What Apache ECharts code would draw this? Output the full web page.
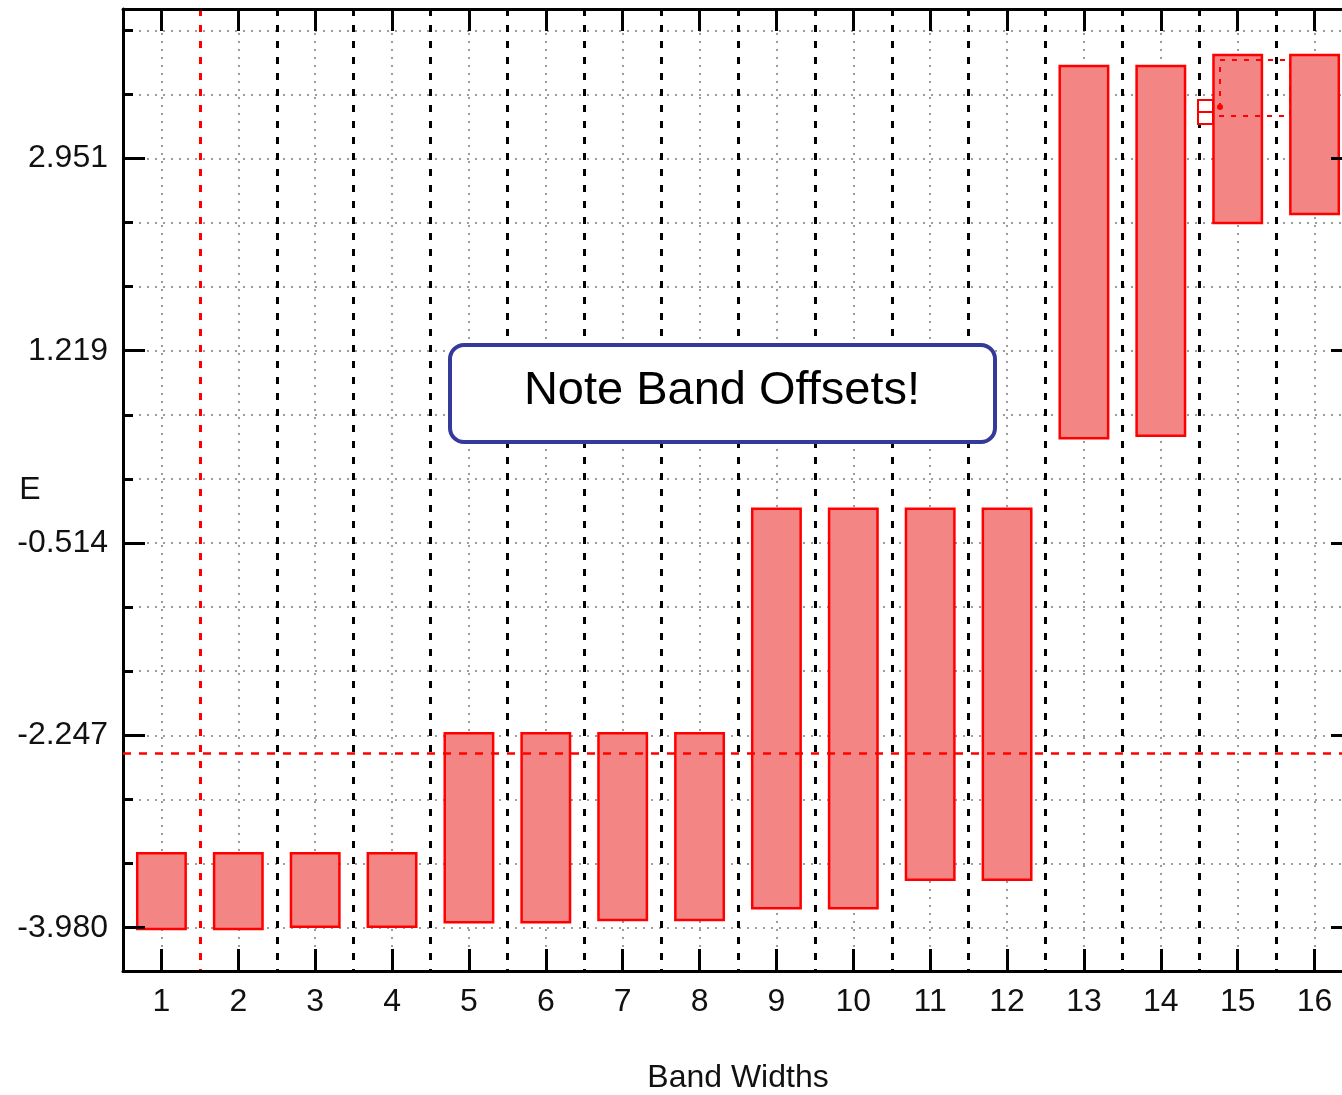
<!DOCTYPE html>
<html>
<head>
<meta charset="utf-8">
<title>Band Widths</title>
<script src="https://cdn.jsdelivr.net/npm/echarts@6/dist/echarts.min.js"></script>
<style>
  html, body { margin: 0; padding: 0; overflow: hidden; background: #ffffff; }
  #chart { width: 1380px; height: 1095px; }
</style>
</head>
<body>
<div id="chart"></div>
<script>
// Band index along the horizontal axis
const categories = ['1', '2', '3', '4', '5', '6', '7', '8', '9', '10', '11', '12', '13', '14', '15', '16'];
// Lower and upper energy edge of each band
const bandLow  = [-3.992, -3.992, -3.971, -3.971, -3.931, -3.931, -3.911, -3.911, -3.805, -3.805, -3.547, -3.547, 0.430, 0.453, 2.370, 2.451];
const bandHigh = [-3.310, -3.310, -3.310, -3.310, -2.228, -2.228, -2.228, -2.228, -0.205, -0.205, -0.205, -0.205, 3.784, 3.784, 3.884, 3.884];
// Energy axis: labelled ticks and every grid line
const yMajorTicks = [-3.980, -2.247, -0.514, 1.219, 2.951];
const yGridTicks = [-3.980, -3.402, -2.825, -2.247, -1.669, -1.092, -0.514, 0.064, 0.641, 1.219, 1.796, 2.374, 2.951, 3.529, 4.106];
const yRange = [-4.370, 4.298];
// Horizontal reference level (red dashed)
const referenceLevel = -2.409;
const yTitle = 'E';
const xTitle = 'Band Widths';
const noteText = 'Note Band Offsets!';

const xCenters = categories.map((c, i) => i + 1);

const FONT = '"Liberation Sans", Arial, Helvetica, sans-serif';
const gridGray = { color: '#9c9c9c', width: 2, type: [2, 6] };
const splitColors = categories.map(() => '#000000').concat(['#000000']);
splitColors[1] = '#ff0000';

const chart = echarts.init(document.getElementById('chart'), null, { renderer: 'canvas' });

chart.setOption({
  backgroundColor: '#ffffff',
  animation: false,
  grid: { left: 123, top: 9, right: 27, bottom: 124, containLabel: false, outerBoundsMode: 'none' },
  xAxis: [
    {
      type: 'category', data: categories, position: 'bottom', boundaryGap: true,
      axisLine: { show: true, onZero: false, lineStyle: { color: '#000', width: 3 } },
      axisTick: { show: true, inside: true, alignWithLabel: true, length: 22, lineStyle: { color: '#000', width: 3 } },
      axisLabel: { show: true, fontFamily: FONT, fontSize: 32, color: '#111', margin: 15 },
      splitLine: { show: true, lineStyle: { color: splitColors, width: 3, type: [7, 9] } },
      name: xTitle, nameLocation: 'middle', nameGap: 91,
      nameTextStyle: { fontFamily: FONT, fontSize: 32, color: '#111' },
      z: 3
    },
    {
      type: 'category', data: categories, position: 'top', boundaryGap: true,
      axisLine: { show: true, onZero: false, lineStyle: { color: '#000', width: 3 } },
      axisTick: { show: true, inside: true, alignWithLabel: true, length: 22, lineStyle: { color: '#000', width: 3 } },
      axisLabel: { show: false },
      splitLine: { show: false },
      z: 3
    },
    {
      type: 'value', position: 'bottom', min: 0.5, max: 16.5,
      axisLine: { show: false, onZero: false },
      axisTick: { show: false, customValues: xCenters },
      axisLabel: { show: false, customValues: xCenters },
      splitLine: { show: true, lineStyle: gridGray },
      z: 1
    }
  ],
  yAxis: [
    {
      type: 'value', position: 'left', min: yRange[0], max: yRange[1],
      axisLine: { show: true, onZero: false, lineStyle: { color: '#000', width: 3 } },
      axisTick: { show: true, inside: true, length: 22, lineStyle: { color: '#000', width: 3 }, customValues: yMajorTicks },
      axisLabel: { show: true, customValues: yMajorTicks, formatter: v => v.toFixed(3), fontFamily: FONT, fontSize: 32, color: '#111', margin: 15 },
      splitLine: { show: false },
      z: 3
    },
    {
      type: 'value', position: 'left', min: yRange[0], max: yRange[1],
      axisLine: { show: false, onZero: false },
      axisTick: { show: true, inside: true, length: 10, lineStyle: { color: '#000', width: 3 }, customValues: yGridTicks },
      axisLabel: { show: false, customValues: yGridTicks },
      splitLine: { show: true, lineStyle: gridGray },
      z: 1
    },
    {
      type: 'value', position: 'right', min: yRange[0], max: yRange[1],
      axisLine: { show: true, onZero: false, lineStyle: { color: '#000', width: 3 } },
      axisTick: { show: true, inside: true, length: 22, lineStyle: { color: '#000', width: 3 }, customValues: yMajorTicks },
      axisLabel: { show: false, customValues: yMajorTicks },
      splitLine: { show: false },
      z: 3
    }
  ],
  series: [
    {
      type: 'custom', name: 'bands', xAxisIndex: 0, yAxisIndex: 0,
      encode: { x: 0, y: [1, 2] },
      data: categories.map((c, i) => [i, bandLow[i], bandHigh[i]]),
      renderItem: function (params, api) {
        const idx = api.value(0);
        const lo = api.coord([idx, api.value(1)]);
        const hi = api.coord([idx, api.value(2)]);
        const w = api.size([1, 0])[0] * 0.63;
        return {
          type: 'rect',
          shape: { x: lo[0] - w / 2, y: hi[1], width: w, height: lo[1] - hi[1] },
          style: { fill: '#f48585', stroke: '#ff0000', lineWidth: 2.5 }
        };
      },
      markLine: {
        silent: true, symbol: 'none', label: { show: false },
        lineStyle: { color: '#ff0000', width: 2.5, type: [8, 8] },
        data: [{ yAxis: referenceLevel }]
      },
      z: 2
    }
  ],
  graphic: [
    // energy axis title
    { type: 'text', z: 10, x: 30, y: 490,
      style: { text: yTitle, font: '32px ' + FONT, fill: '#111', align: 'center', verticalAlign: 'middle' } },
    {
      type: 'group', left: 448, top: 343, z: 100,
      children: [
        { type: 'rect', z: 100, shape: { x: 0, y: 0, width: 545, height: 97, r: 14 },
          style: { fill: '#ffffff', stroke: '#343a9a', lineWidth: 4 } },
        { type: 'text', z: 101, x: 272, y: 46,
          style: { text: noteText, font: '47px ' + FONT, fill: '#000', align: 'center', verticalAlign: 'middle' } }
      ]
    },
    // small selection marker drawn near band 15
    { type: 'rect', z: 50, shape: { x: 1220, y: 60, width: 70, height: 56 },
      style: { fill: 'none', stroke: '#ff0000', lineWidth: 2, lineDash: [5, 7] } },
    { type: 'rect', z: 50, shape: { x: 1198, y: 100, width: 15, height: 24 },
      style: { fill: '#ffffff', stroke: '#ff0000', lineWidth: 2 } },
    { type: 'line', z: 51, shape: { x1: 1198, y1: 112, x2: 1213, y2: 112 },
      style: { stroke: '#ff0000', lineWidth: 2 } },
    { type: 'circle', z: 51, shape: { cx: 1220, cy: 107, r: 3 },
      style: { fill: '#ff0000' } }
  ]
});
</script>
</body>
</html>
